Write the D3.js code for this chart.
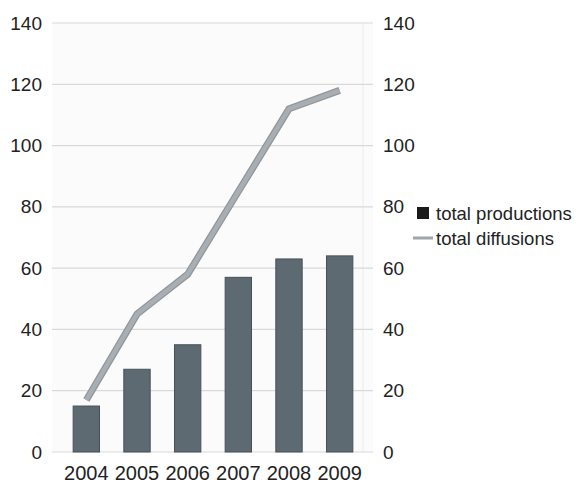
<!DOCTYPE html>
<html>
<head>
<meta charset="utf-8">
<script src="https://cdn.jsdelivr.net/npm/d3@7"></script>
<style>
  body { margin: 0; background: #fff; }
  text { font-family: "Liberation Sans", Arial, sans-serif; fill: #222; }
</style>
</head>
<body>
<div id="chart"></div>
<script>
// Datos
var years = ["2004", "2005", "2006", "2007", "2008", "2009"];
var productions = [15, 27, 35, 57, 63, 64];
var diffusions = [17, 45, 58, 85, 112, 118];
var yTicks = [0, 20, 40, 60, 80, 100, 120, 140];
var seriesNames = ["total productions", "total diffusions"];

var width = 585;
var height = 492;

// area de la grafica
var plotLeft = 52;
var plotRight = 373;
var plotTop = 23;
var plotBottom = 452;

var svg = d3.select("#chart")
  .append("svg")
  .attr("width", width)
  .attr("height", height);

// escalas
var xScale = d3.scaleBand()
  .domain(years)
  .range([61, 365])
  .paddingInner(0.48)
  .paddingOuter(0.24);

var yScale = d3.scaleLinear()
  .domain([0, 140])
  .range([plotBottom, plotTop]);

// fondo
svg.append("rect")
  .attr("x", plotLeft)
  .attr("y", plotTop)
  .attr("width", plotRight - plotLeft)
  .attr("height", plotBottom - plotTop)
  .attr("fill", "#fbfbfb");

svg.append("line")
  .attr("x1", 363).attr("x2", 363)
  .attr("y1", plotTop).attr("y2", plotBottom)
  .attr("stroke", "#ececec");

// grid
svg.append("g")
  .selectAll("line")
  .data(yTicks)
  .enter()
  .append("line")
  .attr("x1", plotLeft)
  .attr("x2", plotRight)
  .attr("y1", function(d) { return yScale(d); })
  .attr("y2", function(d) { return yScale(d); })
  .attr("stroke", "#d9d9d9")
  .attr("stroke-width", 1.2);

// eje izquierdo
var yAxisLeft = d3.axisLeft(yScale).tickValues(yTicks).tickSize(0).tickPadding(10);
var gLeft = svg.append("g")
  .attr("transform", "translate(" + plotLeft + ",0)")
  .call(yAxisLeft);
gLeft.select(".domain").remove();
gLeft.selectAll("text")
  .attr("font-size", 19)
  .attr("font-family", "Liberation Sans, Arial, sans-serif")
  .attr("fill", "#222");

// eje derecho
var yAxisRight = d3.axisRight(yScale).tickValues(yTicks).tickSize(0).tickPadding(10);
var gRight = svg.append("g")
  .attr("transform", "translate(" + plotRight + ",0)")
  .call(yAxisRight);
gRight.select(".domain").remove();
gRight.selectAll("text")
  .attr("font-size", 19)
  .attr("font-family", "Liberation Sans, Arial, sans-serif")
  .attr("fill", "#222");

// eje x
var xAxis = d3.axisBottom(xScale).tickSize(0).tickPadding(14);
var gX = svg.append("g")
  .attr("transform", "translate(0," + plotBottom + ")")
  .call(xAxis);
gX.select(".domain").remove();
gX.selectAll("text")
  .attr("font-size", 20)
  .attr("font-family", "Liberation Sans, Arial, sans-serif")
  .attr("fill", "#222");

// barras
svg.append("g")
  .selectAll("rect")
  .data(productions)
  .enter()
  .append("rect")
  .attr("x", function(d, i) { return xScale(years[i]); })
  .attr("y", function(d) { return yScale(d); })
  .attr("width", xScale.bandwidth())
  .attr("height", function(d) { return plotBottom - yScale(d); })
  .attr("fill", "#5e6a72")
  .attr("stroke", "#46515a")
  .attr("stroke-width", 1);

// linea
var line = d3.line()
  .x(function(d, i) { return xScale(years[i]) + xScale.bandwidth() / 2; })
  .y(function(d) { return yScale(d); });

svg.append("path")
  .datum(diffusions)
  .attr("d", line)
  .attr("fill", "none")
  .attr("stroke", "#8f969c")
  .attr("stroke-width", 7);

svg.append("path")
  .datum(diffusions)
  .attr("d", line)
  .attr("fill", "none")
  .attr("stroke", "#a9aeb3")
  .attr("stroke-width", 4.5);

// leyenda
var legend = svg.append("g").attr("transform", "translate(417,0)");

legend.append("rect")
  .attr("x", 0)
  .attr("y", 207)
  .attr("width", 12)
  .attr("height", 12)
  .attr("fill", "#1a1a1a");

legend.append("text")
  .attr("x", 19)
  .attr("y", 220)
  .attr("font-size", 18.5)
  .text(seriesNames[0]);

legend.append("line")
  .attr("x1", -4).attr("x2", 16)
  .attr("y1", 238).attr("y2", 238)
  .attr("stroke", "#a0a6ab")
  .attr("stroke-width", 3);

legend.append("text")
  .attr("x", 19)
  .attr("y", 245)
  .attr("font-size", 18.5)
  .text(seriesNames[1]);
</script>
</body>
</html>
